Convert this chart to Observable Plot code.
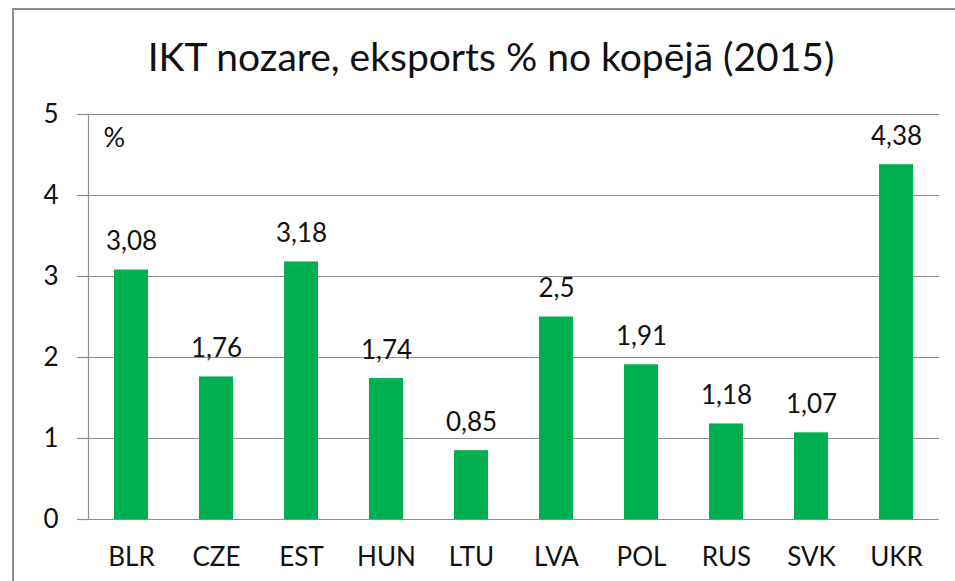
<!DOCTYPE html>
<html>
<head>
<meta charset="utf-8">
<script src="https://cdn.jsdelivr.net/npm/d3@7"></script>
<script src="https://cdn.jsdelivr.net/npm/@observablehq/plot@0.6"></script>
<style>
  html, body { margin: 0; padding: 0; background: #fff; overflow: hidden; }
  #wrap { position: relative; width: 955px; height: 581px; font-family: Lato, "Open Sans", sans-serif; }
  #border { position: absolute; left: 12px; top: 8px; width: 960px; height: 600px; border: 2px solid #8c8c8c; box-sizing: border-box; }
  #title { position: absolute; left: 0; width: 982px; top: 37px; text-align: center; font-size: 39px; color: #111; line-height: 1; }
  #chart { position: absolute; left: 0; top: 0; }
</style>
</head>
<body>
<div id="wrap">
  <div id="border"></div>
  <div id="title">IKT nozare, eksports % no kopējā (2015)</div>
  <div id="chart"></div>
</div>
<script>
const categories = ["BLR", "CZE", "EST", "HUN", "LTU", "LVA", "POL", "RUS", "SVK", "UKR"];
const values = [3.08, 1.76, 3.18, 1.74, 0.85, 2.5, 1.91, 1.18, 1.07, 4.38];
const yTicks = [0, 1, 2, 3, 4, 5];
const unitLabel = "%";

const data = categories.map((c, i) => ({ country: c, value: values[i] }));
const fmt = v => String(v).replace(".", ",");
const grid = "#8c8c8c";

const chart = Plot.plot({
  width: 955,
  height: 581,
  marginLeft: 88,
  marginRight: 16,
  marginTop: 114,
  marginBottom: 62,
  style: { fontFamily: "Lato, 'Open Sans', sans-serif", fontSize: "26px", color: "#111", background: "transparent" },
  x: { domain: categories, paddingInner: 0.6, paddingOuter: 0.3, label: null },
  y: { domain: [0, 5], label: null },
  marks: [
    Plot.gridY(yTicks, { stroke: grid, strokeOpacity: 1, strokeWidth: 1.2 }),
    Plot.axisY(yTicks, { tickSize: 11, tickPadding: 19, tickFormat: d3.format("d"), stroke: grid, strokeOpacity: 1, strokeWidth: 1.2, fontSize: 26, label: null }),
    Plot.frame({ anchor: "left", stroke: grid, strokeWidth: 1.2 }),
    Plot.axisX({ tickSize: 0, tickPadding: 28, fontSize: 26, label: null }),
    Plot.barY(data, { x: "country", y: "value", fill: "#00b050" }),
    Plot.text(data, { x: "country", y: "value", text: d => fmt(d.value), dy: -20, lineAnchor: "bottom", fontSize: 26, fill: "#111" }),
    Plot.text([unitLabel], { frameAnchor: "top-left", dx: 15, dy: 13, fontSize: 27, lineAnchor: "top", textAnchor: "start", fill: "#111" })
  ]
});
document.getElementById("chart").appendChild(chart);
</script>
</body>
</html>
